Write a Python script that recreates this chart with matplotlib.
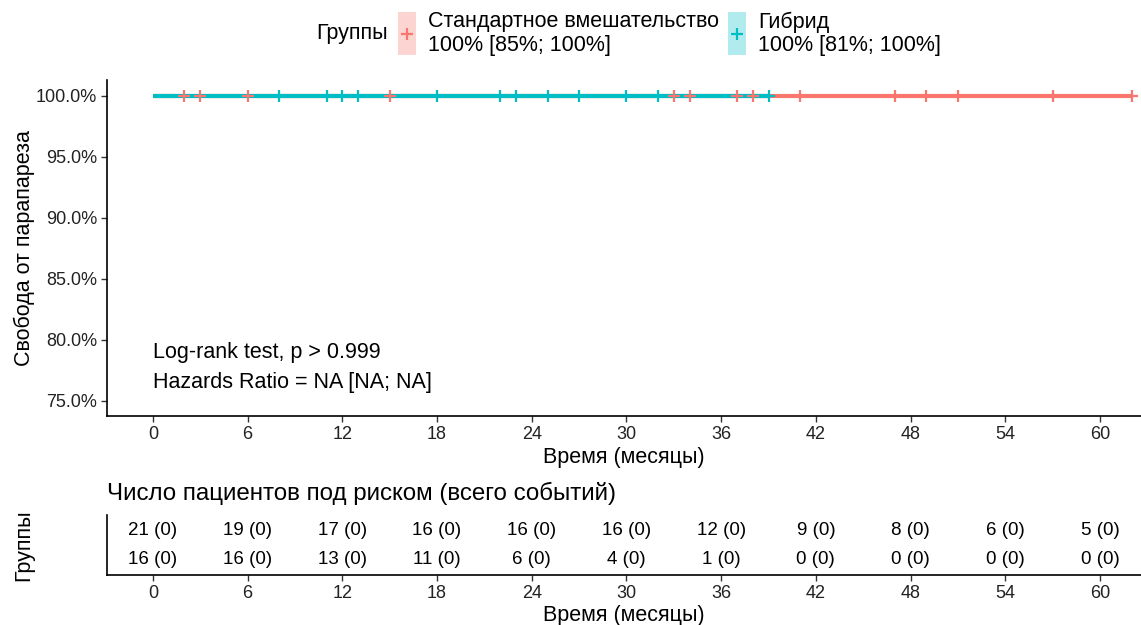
import matplotlib
matplotlib.use("Agg")
import matplotlib.pyplot as plt
from matplotlib.lines import Line2D
from matplotlib.patches import Rectangle

plt.rcParams['font.family'] = ['Liberation Sans', 'DejaVu Sans']

# ---- data ----
groups = ["Стандартное вмешательство", "Гибрид"]
group_ci = ["100% [85%; 100%]", "100% [81%; 100%]"]
colors = ["#F8766D", "#00BFC4"]
surv_end = [62.0, 39.0]
surv_value = [1.0, 1.0]
censor_std = [2, 3, 6, 15, 33, 34, 37, 38, 41, 47, 49, 51, 57, 62]
censor_hyb = [8, 11, 12, 13, 18, 22, 23, 25, 27, 30, 32, 39]
time_ticks = [0, 6, 12, 18, 24, 30, 36, 42, 48, 54, 60]
risk_std = ["21 (0)", "19 (0)", "17 (0)", "16 (0)", "16 (0)", "16 (0)", "12 (0)", "9 (0)", "8 (0)", "6 (0)", "5 (0)"]
risk_hyb = ["16 (0)", "16 (0)", "13 (0)", "11 (0)", "6 (0)", "4 (0)", "1 (0)", "0 (0)", "0 (0)", "0 (0)", "0 (0)"]
y_ticks = [0.75, 0.80, 0.85, 0.90, 0.95, 1.00]
y_tick_labels = ["75.0%", "80.0%", "85.0%", "90.0%", "95.0%", "100.0%"]

W, H = 1141, 625
fig = plt.figure(figsize=(W / 100, H / 100), dpi=100)

def ax_rect(l, t, r, b):
    return [l / W, 1 - b / H, (r - l) / W, (b - t) / H]

xlim = (-2.91, 62.6)
FS_TICK = 13
FS_TEXT = 15.5

# ---- main KM plot ----
ax = fig.add_axes(ax_rect(107, 80, 1141, 416))
ax.set_xlim(*xlim)
ax.set_ylim(0.7377, 1.013)
for end, val, c in zip(surv_end, surv_value, colors):
    ax.plot([0, end], [val, val], color=c, lw=3, solid_capstyle='butt', zorder=2)
ax.plot(censor_std, [surv_value[0]] * len(censor_std), ls='none', marker='+',
        color=colors[0], ms=8.5, mew=1.6, zorder=3)
ax.plot(censor_hyb, [surv_value[1]] * len(censor_hyb), ls='none', marker='+',
        color=colors[1], ms=8.5, mew=1.6, zorder=3)

ax.set_xticks(time_ticks)
ax.set_xticklabels([str(t) for t in time_ticks])
ax.set_yticks(y_ticks)
ax.set_yticklabels(y_tick_labels)
for s in ['top', 'right']:
    ax.spines[s].set_visible(False)
for s in ['left', 'bottom']:
    ax.spines[s].set_linewidth(1.2)
ax.tick_params(axis='both', labelsize=FS_TICK, length=4, width=1.0, color='#333333', labelcolor='#222222', pad=3)
ax.set_xlabel("Время (месяцы)", fontsize=FS_TEXT, labelpad=3)
ax.set_ylabel("Свобода от парапареза", fontsize=FS_TEXT, labelpad=1)
ax.text(0, 0.79, "Log-rank test, p > 0.999", fontsize=FS_TEXT, va='center', ha='left')
ax.text(0, 0.765, "Hazards Ratio = NA [NA; NA]", fontsize=FS_TEXT, va='center', ha='left')

# ---- legend (top) ----
fig.text(388 / W, 1 - 34 / H, "Группы", fontsize=FS_TEXT, ha='right', va='center')
leg_x = [398, 728]
for i, (g, ci, c) in enumerate(zip(groups, group_ci, colors)):
    x0 = leg_x[i]
    fig.add_artist(Rectangle((x0 / W, 1 - 55 / H), 18 / W, 43 / H, transform=fig.transFigure,
                             facecolor=c, alpha=0.3, edgecolor='none'))
    fig.add_artist(Line2D([(x0 + 9) / W], [1 - 34 / H], transform=fig.transFigure,
                          marker='+', color=c, ms=8.5, mew=1.6, ls='none'))
    fig.text((x0 + 30) / W, 1 - 22 / H, g, fontsize=FS_TEXT, ha='left', va='center')
    fig.text((x0 + 30) / W, 1 - 45 / H, ci, fontsize=FS_TEXT, ha='left', va='center')

# ---- risk table ----
ax2 = fig.add_axes(ax_rect(107, 515, 1141, 575))
ax2.set_xlim(*xlim)
ax2.set_ylim(0.43, 2.57)
for t, a, b in zip(time_ticks, risk_std, risk_hyb):
    ax2.text(t, 2, a, fontsize=13.5, ha='center', va='center')
    ax2.text(t, 1, b, fontsize=13.5, ha='center', va='center')
ax2.set_xticks(time_ticks)
ax2.set_xticklabels([str(t) for t in time_ticks])
ax2.set_yticks([2, 1])
ax2.set_yticklabels(["", ""])
ax2.tick_params(axis='y', length=0)
ax2.tick_params(axis='x', labelsize=FS_TICK, length=4, width=1.0, color='#333333', labelcolor='#222222', pad=3)
for s in ['top', 'right']:
    ax2.spines[s].set_visible(False)
for s in ['left', 'bottom']:
    ax2.spines[s].set_linewidth(1.2)
for yv, c in zip([2, 1], colors):
    ax2.plot([-0.31, -0.12], [yv, yv], transform=ax2.get_yaxis_transform(), color=c,
             lw=6, clip_on=False, solid_capstyle='butt')
ax2.set_xlabel("Время (месяцы)", fontsize=FS_TEXT, labelpad=2)
fig.text(24 / W, 1 - 545 / H, "Группы", fontsize=FS_TEXT, rotation=90, ha='center', va='center')
fig.text(107 / W, 1 - 493 / H, "Число пациентов под риском (всего событий)", fontsize=17.4,
         ha='left', va='center')

fig.savefig("out.png", dpi=100)
